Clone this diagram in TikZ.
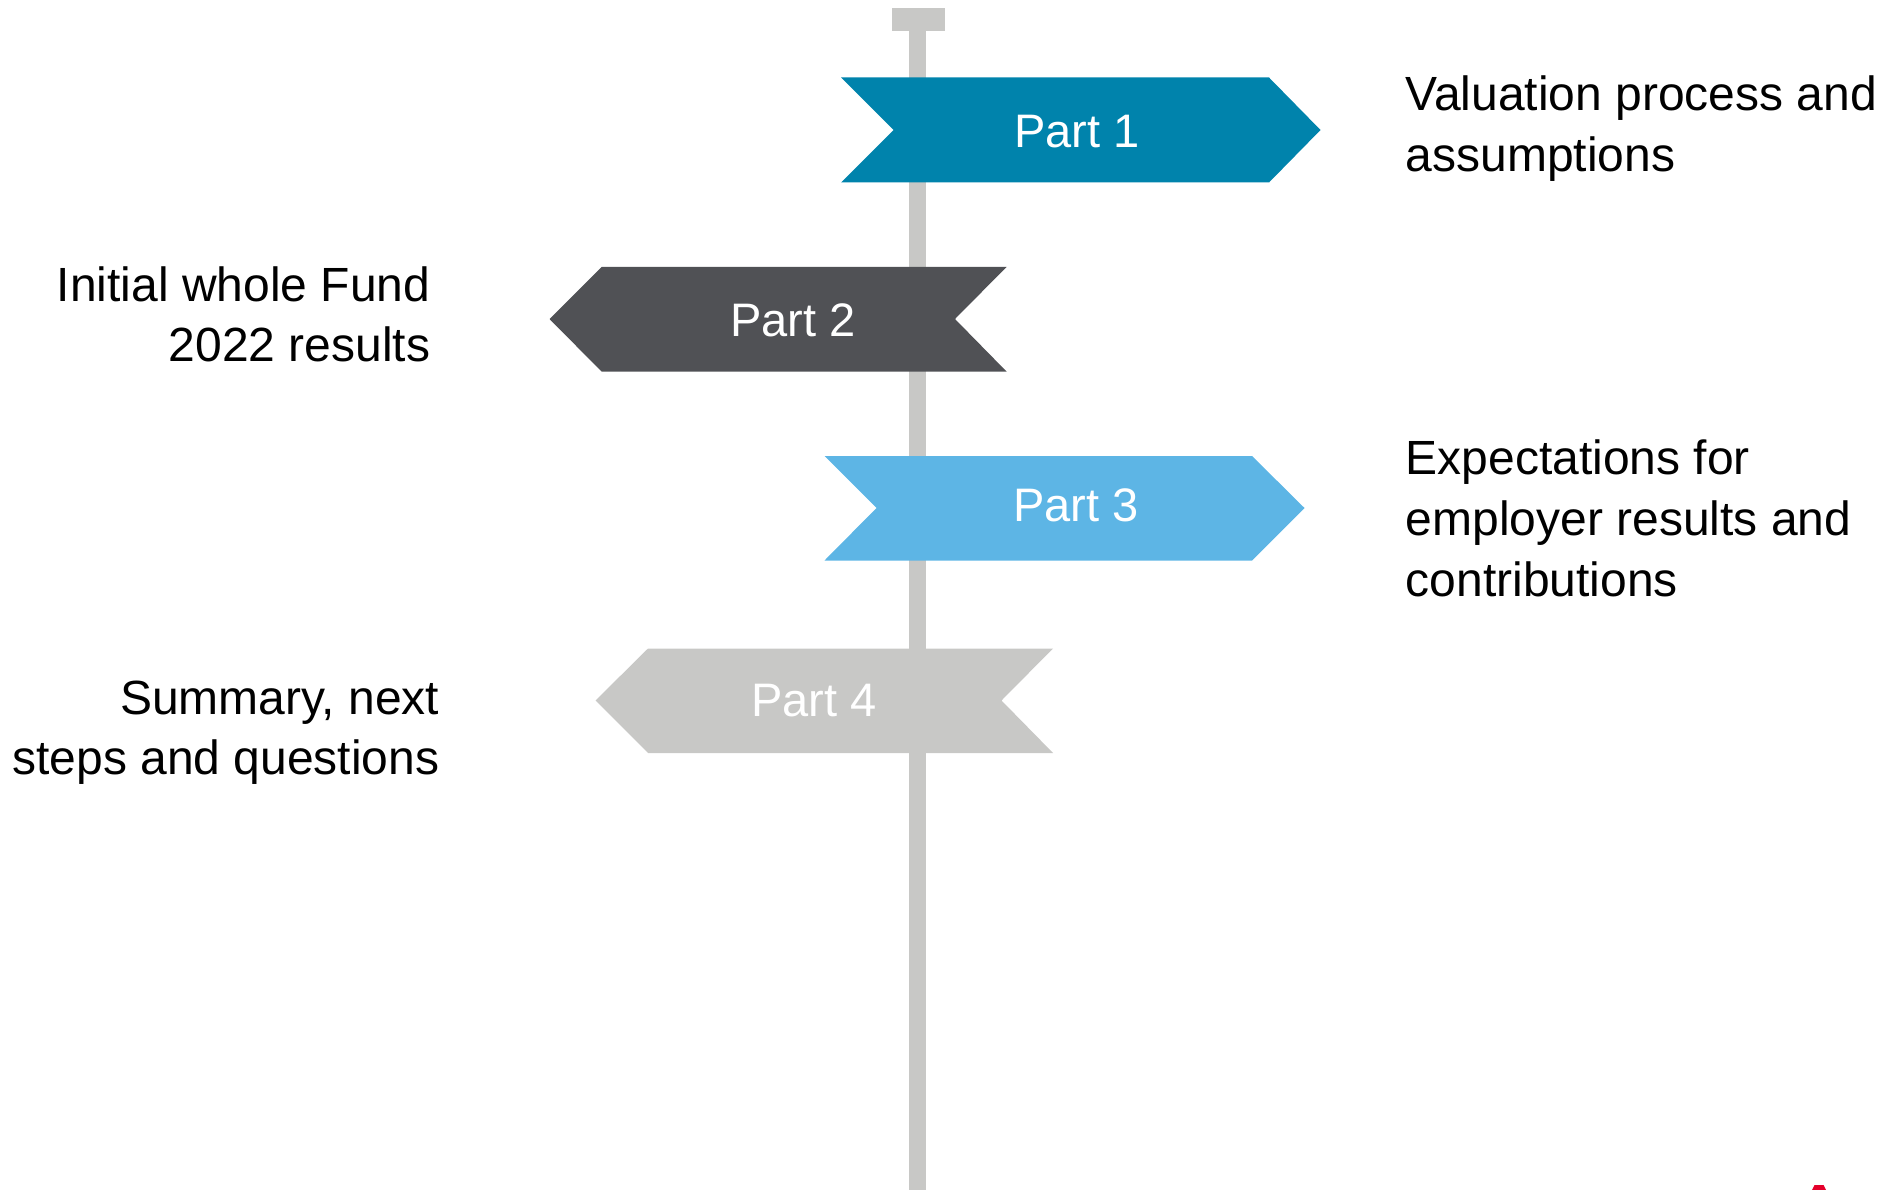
\documentclass[tikz,border=0pt]{standalone}
\usepackage{fontspec}
\setmainfont{Liberation Sans}
\definecolor{teal1}{HTML}{0083AC}
\definecolor{dark1}{HTML}{505155}
\definecolor{sky1}{HTML}{5DB5E5}
\definecolor{grey1}{HTML}{C8C8C6}
\definecolor{red1}{HTML}{E4002B}
\tikzset{
  signtext/.style={text=white,font=\fontsize{47}{57}\selectfont,inner sep=0pt},
  desc/.style={text=black,font=\fontsize{48}{61}\selectfont,inner sep=0pt},
  descleft/.style={text=black,font=\fontsize{48}{60}\selectfont,inner sep=0pt},
}
\begin{document}
\begin{tikzpicture}[x=1pt,y=-1pt]
\useasboundingbox (0,0) rectangle (1901,1190);
\fill[grey1] (909,31) rectangle (926,1190);
\fill[grey1] (892,8) rectangle (945,31);
\fill[teal1] (841,77.5) -- (1269,77.5) -- (1320.5,130) -- (1269,182.5) -- (841,182.5) -- (893.5,130) -- cycle;
\fill[dark1] (549.5,319) -- (601.5,267) -- (1006.5,267) -- (955,319) -- (1006.5,371.5) -- (601.5,371.5) -- cycle;
\fill[sky1] (824.5,456) -- (1252,456) -- (1304.5,508) -- (1252,560.5) -- (824.5,560.5) -- (876.5,508) -- cycle;
\fill[grey1] (595.5,700.5) -- (648,648.5) -- (1053,648.5) -- (1001.5,700.5) -- (1053,753) -- (648,753) -- cycle;
\fill[red1] (1812,1190) -- (1814.5,1185) -- (1823.5,1185) -- (1826,1190) -- cycle;
\node[signtext] (p1) at (1077,132) {Part 1};
\node[signtext] (p2) at (793,320) {Part 2};
\node[signtext] (p3) at (1076,505.5) {Part 3};
\node[signtext] (p4) at (814,701) {Part 4};
\node[desc,align=left,anchor=north west] (d1) at (1405.5,76) {Valuation process and\\assumptions};
\node[descleft,align=right,anchor=north east] (d2) at (430.5,267) {Initial whole Fund\\2022 results};
\node[desc,align=left,anchor=north west] (d3) at (1405.5,440) {Expectations for\\employer results and\\contributions};
\node[descleft,align=right,anchor=north east] (d4) at (439.5,681) {Summary, next\\steps and questions};
\end{tikzpicture}
\end{document}
